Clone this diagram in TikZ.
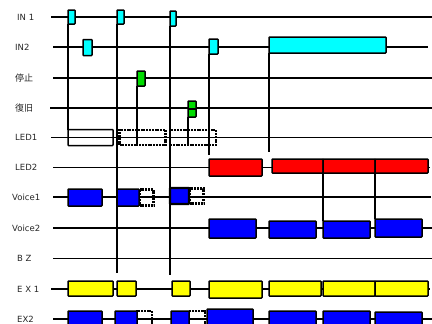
\documentclass[tikz,border=0pt]{standalone}
\usepackage{fontspec}
\setmainfont{DejaVu Sans}
\newfontfamily\cjkfont{Noto Sans CJK JP}
\definecolor{pcyan}{RGB}{0,255,255}
\definecolor{pgreen}{RGB}{0,220,0}
\definecolor{pred}{RGB}{255,0,0}
\definecolor{pblue}{RGB}{0,0,255}
\definecolor{pyellow}{RGB}{255,255,0}
\begin{document}
\begin{tikzpicture}[x=1bp,y=-1bp,
  rowline/.style={line width=1.4bp,black},
  vline/.style={line width=1.3bp,black},
  lbl/.style={anchor=west,inner sep=0,font=\fontsize{8.5bp}{10bp}\selectfont,text=black!85},
  pbox/.style={draw=black,line width=1.5bp,rectangle,inner sep=0,outer sep=0,anchor=north west,rounded corners=0.6bp},
  dbox/.style={draw=black,line width=2.2bp,dash pattern=on 2bp off 0.8bp,rectangle,inner sep=0,outer sep=0,anchor=north west},
  cy/.style={pbox,fill=pcyan},
  gr/.style={pbox,fill=pgreen},
  rd/.style={pbox,fill=pred},
  bl/.style={pbox,fill=pblue},
  ye/.style={pbox,fill=pyellow},
  wh/.style={pbox},
]
\useasboundingbox (0,0) rectangle (432,324);
\fill[white] (0,0) rectangle (432,324);
% labels
\node[lbl] (lin1) at (17,17) {IN 1};
\node[lbl] (lin2) at (15,47) {IN2};
\node[lbl,font=\cjkfont\fontsize{9bp}{10bp}\selectfont] (lstop) at (15,78) {停止};
\node[lbl,font=\cjkfont\fontsize{9bp}{10bp}\selectfont] (lres) at (15,108) {復旧};
\node[lbl] (lled1) at (15,137.5) {LED1};
\node[lbl] (lled2) at (15,167.5) {LED2};
\node[lbl] (lvo1) at (12,197) {Voice1};
\node[lbl] (lvo2) at (12,228) {Voice2};
\node[lbl] (lbz) at (17,258.5) {B Z};
\node[lbl] (lex1) at (17,289) {E X 1};
\node[lbl] (lex2) at (17,319) {EX2};
% row line ends
\foreach \n/\y/\xa/\xb in {in1/17/51/432, in2/47/53/428, stop/78/53/432, res/108/50/432, led1/137.5/51/432, led2/167.5/53/430, vo1/197/53/431, vo2/228/53/432, bz/258.5/53/432, ex1/289/51/430, ex2/319/53/432}{
  \coordinate (\n L) at (\xa,\y);
  \coordinate (\n R) at (\xb,\y);
  \draw[rowline] (\n L) -- (\n R);
}
% free ends of vertical connectors
\coordinate (e2) at (117,273);
\coordinate (e3) at (170,275);
% pulses
\node[cy,minimum width=7bp,minimum height=14bp] (in1a) at (68,10) {};
\node[cy,minimum width=7bp,minimum height=14bp] (in1b) at (117,10) {};
\node[cy,minimum width=6bp,minimum height=15bp] (in1c) at (170,11) {};
\node[cy,minimum width=9bp,minimum height=16bp] (in2a) at (83,39.5) {};
\node[cy,minimum width=9bp,minimum height=15bp] (in2b) at (209,39) {};
\node[cy,minimum width=117bp,minimum height=16bp] (in2c) at (269,37) {};
\node[gr,minimum width=8bp,minimum height=15bp] (stopa) at (137,71) {};
\node[gr,minimum width=8bp,minimum height=16bp] (resa) at (188,101) {};
\draw[rowline] (resa.west) -- (resa.east);
% LED1
\node[wh,minimum width=45bp,minimum height=16bp] (led1a) at (68,129.5) {};
\node[dbox,minimum width=46bp,minimum height=15bp] (led1b) at (119.5,130) {};
\node[dbox,minimum width=46bp,minimum height=15bp] (led1c) at (170,130) {};
% LED2
\node[rd,minimum width=53bp,minimum height=17bp] (led2a) at (209,159) {};
\node[rd,minimum width=51bp,minimum height=14bp] (led2b) at (272,159) {};
\node[rd,minimum width=52bp,minimum height=14bp] (led2c) at (323,159) {};
\node[rd,minimum width=53bp,minimum height=14bp] (led2d) at (375,159) {};
% Voice1
\node[bl,minimum width=34bp,minimum height=17bp] (vo1a) at (68,189) {};
\node[dbox,minimum width=14bp,minimum height=16bp] (vo1bd) at (139.5,189.5) {};
\node[bl,minimum width=22bp,minimum height=17bp] (vo1b) at (117,189) {};
\node[dbox,minimum width=14bp,minimum height=15bp] (vo1cd) at (189.5,188.5) {};
\node[bl,line width=2.2bp,minimum width=19bp,minimum height=16bp] (vo1c) at (170,188) {};
% Voice2
\node[bl,minimum width=47bp,minimum height=19bp] (vo2a) at (209,219) {};
\node[bl,minimum width=47bp,minimum height=17bp] (vo2b) at (269,221) {};
\node[bl,minimum width=47bp,minimum height=17bp] (vo2c) at (323,221) {};
\node[bl,minimum width=47bp,minimum height=18bp] (vo2d) at (375,219) {};
% EX1
\node[ye,minimum width=45bp,minimum height=15bp] (ex1a) at (68,281) {};
\node[ye,minimum width=19bp,minimum height=15bp] (ex1b) at (117,281) {};
\node[ye,minimum width=18bp,minimum height=15bp] (ex1c) at (172,281) {};
\node[ye,minimum width=53bp,minimum height=17bp] (ex1d) at (209,281) {};
\node[ye,minimum width=52bp,minimum height=15bp] (ex1e) at (269,281) {};
\node[ye,minimum width=52bp,minimum height=15bp] (ex1f) at (323,281) {};
\node[ye,minimum width=53bp,minimum height=15bp] (ex1g) at (375,281) {};
% EX2
\node[bl,minimum width=34bp,minimum height=18bp] (ex2a) at (68,311) {};
\node[dbox,minimum width=15bp,minimum height=18bp] (ex2bd) at (137,311) {};
\node[bl,minimum width=22bp,minimum height=18bp] (ex2b) at (115,311) {};
\node[dbox,minimum width=16bp,minimum height=18bp] (ex2cd) at (189,311) {};
\node[bl,minimum width=18bp,minimum height=18bp] (ex2c) at (171,311) {};
\node[bl,minimum width=46bp,minimum height=20bp] (ex2d) at (207,309) {};
\node[bl,minimum width=47bp,minimum height=18bp] (ex2e) at (269,311) {};
\node[bl,minimum width=47bp,minimum height=18bp] (ex2f) at (323,311) {};
\node[bl,minimum width=47bp,minimum height=17bp] (ex2g) at (375,312) {};
% vertical connectors
\draw[vline] (in1a.south west) -- (led1a.north west);
\draw[vline] (in1b.south west) -- (e2);
\draw[vline] (in1c.south west) -- (e3);
\draw[vline] (stopa.south west) -- (stopa.south west |- led1b.south);
\draw[vline] (resa.south west) -- (resa.south west |- led1c.south);
\draw[vline,shorten >=4bp] (in2b.south west) -- (led2a.north west);
\draw[vline] (in2c.south west) -- (in2c.south west |- 0,152);
\draw[vline] (led2b.south east) -- (led2b.south east |- vo2c.north);
\draw[vline] (led2c.south east) -- (led2c.south east |- vo2d.north);
\end{tikzpicture}
\end{document}
